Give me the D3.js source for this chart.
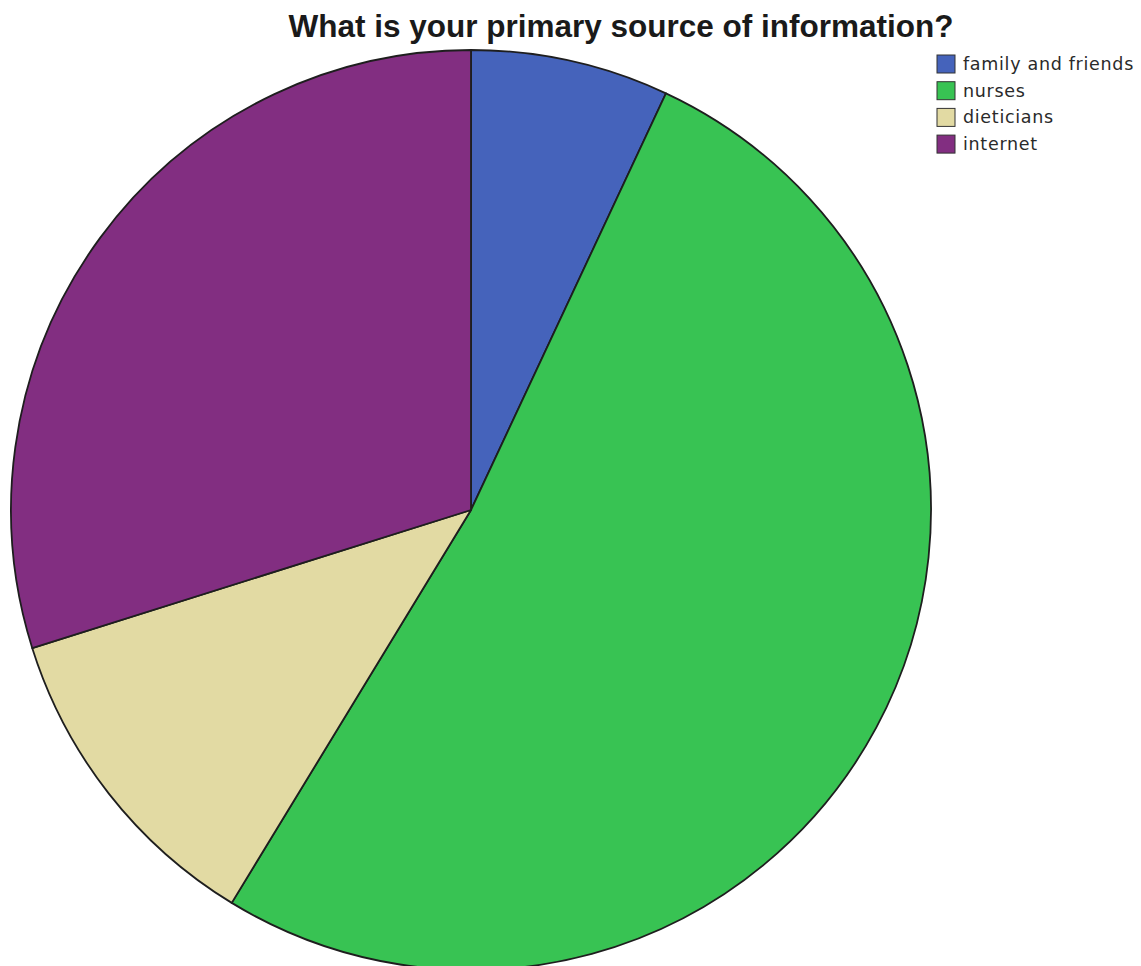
<!DOCTYPE html>
<html>
<head>
<meta charset="utf-8">
<script src="https://cdn.jsdelivr.net/npm/d3@7"></script>
<style>
body { margin: 0; background: #fff; }
</style>
</head>
<body>
<div id="chart"></div>
<script>
// answers
const categories = ['family and friends', 'nurses', 'dieticians', 'internet'];
const counts = [14, 104, 23, 60];
const colors = ['#4563BB', '#38C353', '#E2DAA3', '#822E81'];

const width = 1141, height = 966;
const cx = 471, cy = 510, radius = 460;

const svg = d3.select('#chart')
    .append('svg')
    .attr('width', width)
    .attr('height', height);

const data = categories.map((c, i) => ({name: c, value: counts[i], color: colors[i]}));

const pie = d3.pie()
    .value(d => d.value)
    .sort(null);

const arc = d3.arc()
    .innerRadius(0)
    .outerRadius(radius);

svg.append('g')
    .attr('transform', 'translate(' + cx + ',' + cy + ')')
    .selectAll('path')
    .data(pie(data))
    .enter()
    .append('path')
    .attr('d', arc)
    .style('fill', d => d.data.color)
    .style('stroke', '#1e1e1e')
    .style('stroke-width', '1.8px')
    .style('stroke-linejoin', 'round');

svg.append('text')
    .attr('x', 621)
    .attr('y', 37)
    .style('text-anchor', 'middle')
    .style('font-family', 'Liberation Sans, Arial, sans-serif')
    .style('font-weight', 'bold')
    .style('font-size', '31.5px')
    .style('fill', '#1a1a1a')
    .text('What is your primary source of information?');

const legend = svg.append('g')
    .attr('transform', 'translate(937,55)');

const rows = legend.selectAll('g')
    .data(data)
    .enter()
    .append('g')
    .attr('transform', (d, i) => 'translate(0,' + (i * 26.7) + ')');

rows.append('rect')
    .attr('width', 18)
    .attr('height', 18)
    .style('fill', d => d.color)
    .style('stroke', '#333')
    .style('stroke-width', '1px');

rows.append('text')
    .attr('x', 26)
    .attr('y', 15)
    .style('font-family', 'DejaVu Sans, sans-serif')
    .style('font-size', '17.5px')
    .style('letter-spacing', '0.7px')
    .style('fill', '#2a2a2a')
    .text(d => d.name);
</script>
</body>
</html>
